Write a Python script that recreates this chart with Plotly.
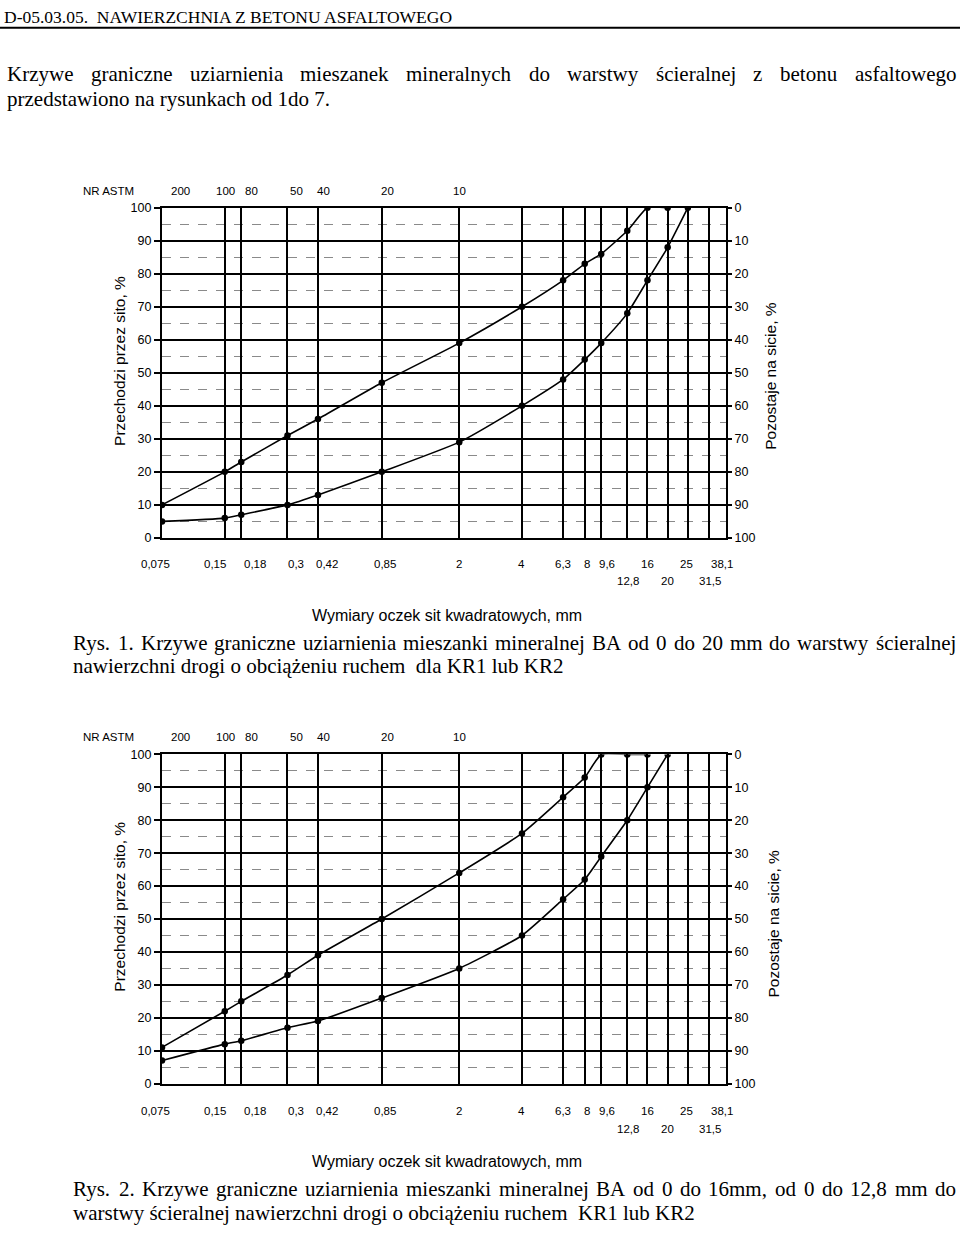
import math
import plotly.graph_objects as go

# ---------------- data ----------------
sieve_sizes = [0.075, 0.15, 0.18, 0.3, 0.42, 0.85, 2, 4, 6.3, 8, 9.6, 12.8, 16, 20, 25]
grid_sizes = [0.075, 0.15, 0.18, 0.3, 0.42, 0.85, 2, 4, 6.3, 8, 9.6, 12.8, 16, 20, 25, 31.5, 38.1]

# Rys. 1 (BA 0/20)
rys1_upper = [10, 20, 23, 31, 36, 47, 59, 70, 78, 83, 86, 93, 100, 100]
rys1_lower = [5, 6, 7, 10, 13, 20, 29, 40, 48, 54, 59, 68, 78, 88, 100]
# Rys. 2 (BA 0/16, 0/12.8)
rys2_upper = [11, 22, 25, 33, 39, 50, 64, 76, 87, 93, 100, 100, 100]
rys2_lower = [7, 12, 13, 17, 19, 26, 35, 45, 56, 62, 69, 80, 90, 100]

row1_vals = [0.075, 0.15, 0.18, 0.3, 0.42, 0.85, 2, 4, 6.3, 8, 9.6, 16, 25, 38.1]
row1_text = ['0,075', '0,15', '0,18', '0,3', '0,42', '0,85', '2', '4', '6,3', '8', '9,6', '16', '25', '38,1']
row1_shift = [-7, -10, 14, 9, 9, 3, 0, 0, 0, 2, 6, 0, -1, -4]
row2_vals = [12.8, 20, 31.5]
row2_text = ['12,8', '20', '31,5']
row2_shift = [1, 0, 1]

astm_vals = [0.075, 0.15, 0.18, 0.3, 0.42, 0.85, 2]
astm_text = ['200', '100', '80', '50', '40', '20', '10']
astm_shift = [18, 1, 10, 9, 6, 6, 0]

y_ticks = list(range(0, 101, 10))
y_minor = list(range(5, 100, 10))

# ---------------- page geometry ----------------
W, H = 960, 1233
SERIF = "Liberation Serif"
SANS = "Liberation Sans"


def px(x):
    return x / W


def py(y):
    return 1 - y / H


charts = [
    dict(top=203, bottom=537, astm=186, r1=563, r2=581, xt=615, lt=(120, 358), rt=(771, 373),
         upper=rys1_upper, lower=rys1_lower),
    dict(top=756, bottom=1089, astm=738, r1=1117, r2=1135, xt=1168, lt=(120, 910), rt=(773, 927),
         upper=rys2_upper, lower=rys2_lower),
]
X0, X1 = 162, 726

TW = {}
for c, w in zip("abcdefghijklmnopqrstuvwxyz",
                [444, 500, 444, 500, 444, 333, 500, 500, 278, 278, 500, 278, 778, 500, 500, 500, 500, 333, 389, 278, 500, 500, 722, 500, 500, 444]):
    TW[c] = w
for c, w in zip("ABCDEFGHIJKLMNOPQRSTUVWXYZ",
                [722, 667, 667, 722, 611, 556, 722, 722, 333, 389, 722, 611, 889, 722, 722, 556, 722, 667, 556, 611, 722, 722, 944, 722, 722, 611]):
    TW[c] = w
TW.update({'ś': 389, 'ą': 444, 'ż': 444, 'ę': 444, '.': 250, ',': 250, '-': 333, ' ': 250})
for d in "0123456789":
    TW[d] = 500

annotations = []


def add_text(text, x, y, size, family=SERIF, xanchor='left', xref='paper', xshift=0, angle=0):
    annotations.append(dict(text=text, x=x, y=py(y), xref=xref, yref='paper', xanchor=xanchor,
                            yanchor='middle', showarrow=False, textangle=angle, xshift=xshift,
                            font=dict(family=family, size=size, color='black'), borderpad=0))


def justify(line, x0, x1, yc, size):
    words = line.split()
    widths = [sum(TW.get(ch, 500) for ch in w) * size / 1000 for w in words]
    gap = (x1 - x0 - sum(widths)) / (len(words) - 1)
    x = x0
    for w, wd in zip(words, widths):
        add_text(w, px(x), yc, size)
        x += wd + gap


fig = go.Figure()

for i, ch in enumerate(charts):
    n = i + 1
    xa = 'x' if n == 1 else f'x{n}'
    ya = 'y' if n == 1 else f'y{2 * n - 1}'
    ya2 = f'y{2 * n}'
    xkey = 'xaxis' if n == 1 else f'xaxis{n}'
    ykey = 'yaxis' if n == 1 else f'yaxis{2 * n - 1}'
    y2key = f'yaxis{2 * n}'
    dom_y = [py(ch['bottom']), py(ch['top'])]
    for series in (ch['upper'], ch['lower']):
        fig.add_trace(go.Scatter(x=sieve_sizes[:len(series)], y=series, xaxis=xa, yaxis=ya,
                                 mode='lines+markers', showlegend=False, hoverinfo='skip',
                                 line=dict(color='black', width=1.6, shape='spline', smoothing=0.5),
                                 marker=dict(color='black', size=6.5)))
    fig.add_trace(go.Scatter(x=[1], y=[50], xaxis=xa, yaxis=ya2, mode='markers', showlegend=False,
                             hoverinfo='skip', marker=dict(opacity=0)))
    fig.update_layout(**{
        xkey: dict(type='log', domain=[px(X0), px(X1)], range=[math.log10(0.075), math.log10(38.1)],
                   anchor=ya, tickvals=grid_sizes, showticklabels=False, ticks='',
                   showgrid=True, gridcolor='black', gridwidth=1.8,
                   showline=True, mirror=True, linecolor='black', linewidth=2.2, zeroline=False),
        ykey: dict(domain=dom_y, range=[0, 100], anchor=xa, tickvals=y_ticks,
                   ticktext=[str(v) for v in y_ticks], ticks='outside', ticklen=6, tickwidth=1.5,
                   tickcolor='black', showgrid=True, gridcolor='black', gridwidth=1.8,
                   minor=dict(tickvals=y_minor, showgrid=True, gridcolor='#8a8a8a', griddash='dash',
                              gridwidth=1, ticks=''),
                   showline=True, mirror=True, linecolor='black', linewidth=2.2, zeroline=False,
                   tickfont=dict(family=SANS, size=12.5, color='black')),
        y2key: dict(overlaying=ya, side='right', anchor=xa, range=[100, 0], tickvals=y_ticks,
                    ticktext=[str(v) for v in y_ticks], ticks='outside', ticklen=5, tickwidth=1.5,
                    tickcolor='black', showgrid=False, zeroline=False, showline=False,
                    tickfont=dict(family=SANS, size=12.5, color='black')),
    })
    # ASTM row
    add_text('NR ASTM', px(108), ch['astm'], 11.5, SANS, 'center')
    for v, t, s in zip(astm_vals, astm_text, astm_shift):
        add_text(t, math.log10(v), ch['astm'], 11.5, SANS, 'center', xref=xa, xshift=s)
    # sieve size labels
    for v, t, s in zip(row1_vals, row1_text, row1_shift):
        add_text(t, math.log10(v), ch['r1'], 11.5, SANS, 'center', xref=xa, xshift=s)
    for v, t, s in zip(row2_vals, row2_text, row2_shift):
        add_text(t, math.log10(v), ch['r2'], 11.5, SANS, 'center', xref=xa, xshift=s)
    add_text('Wymiary oczek sit kwadratowych, mm', px(447), ch['xt'], 16, SANS, 'center')
    add_text('Przechodzi przez sito, %', px(ch['lt'][0]), ch['lt'][1], 15.5, SANS, 'center', angle=-90)
    add_text('Pozostaje na sicie, %', px(ch['rt'][0]), ch['rt'][1], 15.5, SANS, 'center', angle=-90)

# page text
add_text('D-05.03.05.  NAWIERZCHNIA Z BETONU ASFALTOWEGO', px(3), 10, 17.5)
justify('Krzywe graniczne uziarnienia mieszanek mineralnych do warstwy ścieralnej z betonu asfaltowego',
        6, 955, 68, 21)
add_text('przedstawiono na rysunkach od 1do 7.', px(6), 93, 21)
justify('Rys. 1. Krzywe graniczne uziarnienia mieszanki mineralnej BA od 0 do 20 mm do warstwy ścieralnej',
        72, 955, 643, 21)
add_text('nawierzchni drogi o obciążeniu ruchem  dla KR1 lub KR2', px(72), 667, 21)
justify('Rys. 2. Krzywe graniczne uziarnienia mieszanki mineralnej BA od 0 do 16mm, od 0 do 12,8 mm do',
        72, 955, 1196, 21)
add_text('warstwy ścieralnej nawierzchni drogi o obciążeniu ruchem  KR1 lub KR2', px(72), 1220, 21)

fig.update_layout(
    width=W, height=H, margin=dict(l=0, r=0, t=0, b=0),
    paper_bgcolor='white', plot_bgcolor='white',
    annotations=annotations,
    shapes=[dict(type='line', xref='paper', yref='paper', x0=0, x1=1, y0=py(21), y1=py(21),
                 line=dict(color='black', width=2))],
)

fig.write_html("out.html")
